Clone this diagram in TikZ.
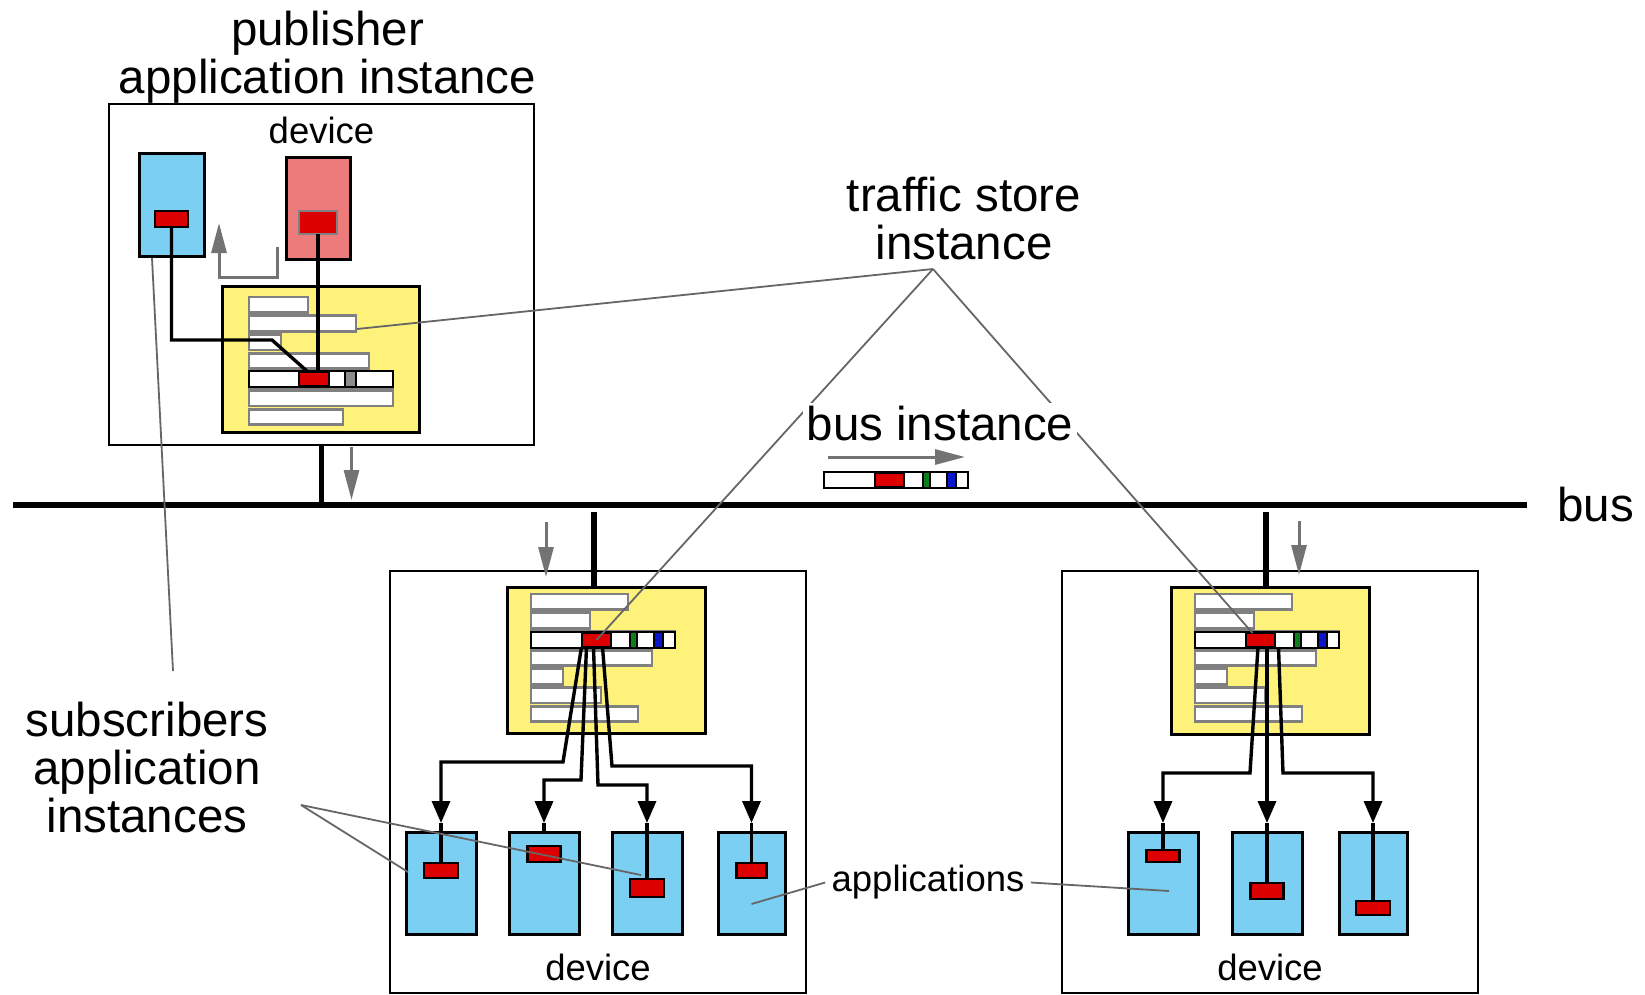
\documentclass[tikz,border=0pt]{standalone}
\usepackage{fontspec}
\setmainfont{Liberation Sans}
\usepackage{xcolor}
\usepackage{tikz}
\usetikzlibrary{arrows.meta,positioning,calc}
\definecolor{AppBlue}{HTML}{7ACFF2}
\definecolor{PubRed}{HTML}{EE7B7B}
\definecolor{PktRed}{HTML}{DD0000}
\definecolor{StoreYellow}{HTML}{FFF27A}
\definecolor{TgGreen}{HTML}{0A7F1E}
\definecolor{TgBlue}{HTML}{0A14C8}

\newcommand{\storerows}[3]{%
  \foreach \w [count=\i from 0] in {#3}
    \draw[slot] (#1,{#2+\i*18.7}) rectangle ++(\w,15.5);}
\newcommand{\telegram}[3]{%
  \draw[cell] (#1,#2) rectangle ++(144,16);
  \node[packet,anchor=west,wh={29}{14}] (#3) at ({#1+51},{#2+8}) {};
  \draw[cell,fill=TgGreen] ({#1+99},#2) rectangle ++(7,16);
  \draw[cell,fill=TgBlue] ({#1+123},#2) rectangle ++(9,16);}

\begin{document}
\begin{tikzpicture}[
  x=0.5pt,y=-0.5pt,
  wh/.style 2 args={minimum width=#1*0.5pt,minimum height=#2*0.5pt},
  dev/.style={draw,line width=1.4pt,fill=white,anchor=north west,inner sep=0pt,outer sep=0pt},
  app/.style={draw,line width=1.5pt,fill=AppBlue,wh={70}{102},inner sep=0pt,outer sep=0pt},
  store/.style={draw,line width=1.5pt,fill=StoreYellow,anchor=north west,inner sep=0pt,outer sep=0pt},
  slot/.style={draw=black!50,line width=1.4pt,fill=white},
  cell/.style={draw,line width=1.4pt,fill=white},
  packet/.style={draw,line width=1.3pt,fill=PktRed,inner sep=0pt,outer sep=0pt},
  wire/.style={line width=1.7pt},
  conn/.style={wire,-{Triangle[length=11pt,width=9pt]},shorten >=4.5pt},
  busline/.style={line width=3pt},
  tap/.style={line width=2.8pt},
  flow/.style={draw=black!55,line width=1.5pt,-{Triangle[length=15pt,width=7.5pt]}},
  leader/.style={draw=black!60,line width=0.9pt},
  big/.style={font=\fontsize{23.75}{24}\selectfont,align=center,inner sep=0pt},
  small/.style={font=\fontsize{18.25}{20}\selectfont,inner sep=0pt}
]
\useasboundingbox (0,0) rectangle (1645,995);

\node[dev,wh={425}{341}] (pdev) at (109,104) {};
\node[big,above=0pt of pdev,xshift=3pt] (pubtitle) {publisher\\application instance};
\node[small,below=6.3pt of pdev.north] (pdevlbl) {device};
\node[app,anchor=north west,wh={65}{102}] (bapp) at (139,154) {};
\node[app,anchor=north west,wh={64}{101},fill=PubRed] (papp) at (286,158) {};
\node[packet,wh={33}{16}] (bpk) at (171.5,219) {};
\node[packet,wh={38}{23},draw=black!50] (ppk) at (318,222.5) {};
\node[store,wh={197}{146}] (pstore) at (222,286) {};
\storerows{249}{297}{59,107,32,120,144,144,94}
\draw[cell] (249,371) rectangle ++(144,16);
\node[packet,anchor=west,wh={30}{14}] (pmsg) at (299,379) {};
\draw[cell,fill=black!45] (345,371) rectangle ++(11,16);
\draw[wire] (bpk.south) |- (272,340) -- ([xshift=-3pt]pmsg.north);
\draw[wire] (ppk.south) -- (ppk.south |- pmsg.north);
\draw[flow] (277,247) |- (219,277) -- (219,223);

\coordinate (busL) at (13,505);
\coordinate (busR) at (1527,505);
\draw[busline] (busL) -- (busR);
\node[big,right=15pt of busR] (buslbl) {bus};
\draw[tap] (pdev.south) -- (pdev.south |- busL);
\draw[flow] ($(pdev.south)+(30,2)$) -- ++(0,53);

\node[dev,wh={416}{422}] (mdev) at (390,571) {};
\node[small,above=5.8pt of mdev.south] (mdevlbl) {device};
\node[store,wh={198}{146}] (mstore) at (507,587) {};
\storerows{531}{594}{97,59,144,121,32,70,107}
\telegram{531}{632}{mpk}
\draw[tap] ([xshift=-6pt]mstore.north) -- ++(0,-75);
\draw[flow] ($(mdev.north)+(-52,-49)$) -- ++(0,55);
\node[app,anchor=north west] (a1) at (406,832) {};
\node[app,right=16.5pt of a1] (a2) {};
\node[app,right=16.5pt of a2] (a3) {};
\node[app,right=18pt of a3,wh={67}{102}] (a4) {};
\node[packet,wh={34}{15}] (p1) at ($(a1.north)+(0,38.5)$) {};
\node[packet,wh={33}{16}] (p2) at ($(a2.north)+(0,22)$) {};
\node[packet,wh={34}{18}] (p3) at ($(a3.north)+(0,56)$) {};
\node[packet,wh={30}{15}] (p4) at ($(a4.north)+(0,38.5)$) {};
\draw[conn] ([xshift=-7.5pt]mpk.south) -- (563,762) -| (a1.north);
\draw[conn] ([xshift=-5pt]mpk.south) -- (581,780) -| (a2.north);
\draw[conn] ([xshift=-1.5pt]mpk.south) -- (598,785) -| (a3.north);
\draw[conn] ([xshift=3pt]mpk.south) -- (612,766) -| (a4.north);
\draw[wire] ([yshift=4.5pt]a1.north) -- (p1.north);
\draw[wire] ([yshift=4.5pt]a2.north) -- (a2.north);
\draw[wire] ([yshift=4.5pt]a3.north) -- (p3.north);
\draw[wire] ([yshift=4.5pt]a4.north) -- (p4.north);

\node[dev,wh={416}{422}] (rdev) at (1062,571) {};
\node[small,above=5.8pt of rdev.south] (rdevlbl) {device};
\node[store,wh={198}{147}] (rstore) at (1171,587) {};
\storerows{1195}{594}{97,59,144,121,32,70,107}
\telegram{1195}{632}{rpk}
\draw[tap] ([xshift=-2pt]rstore.north) -- ++(0,-75);
\draw[flow] ($(rdev.north)+(29,-50)$) -- ++(0,54);
\node[app,anchor=north west] (r1) at (1128,832) {};
\node[app,right=17pt of r1] (r2) {};
\node[app,right=18.5pt of r2,wh={68}{102}] (r3) {};
\node[packet,wh={33}{12}] (q1) at ($(r1.north)+(0,24)$) {};
\node[packet,wh={33}{16}] (q2) at ($(r2.north)+(0,59)$) {};
\node[packet,wh={34}{14}] (q3) at ($(r3.north)+(0,76)$) {};
\draw[conn] ([xshift=-1.25pt]rpk.south) -- (1250,773) -| (r1.north);
\draw[conn] (r2.north |- rpk.south) -- (r2.north);
\draw[conn] ([xshift=9pt]rpk.south) -- (1283,773) -| (r3.north);
\draw[wire] ([yshift=4.5pt]r1.north) -- (q1.north);
\draw[wire] ([yshift=4.5pt]r2.north) -- (q2.north);
\draw[wire] ([yshift=4.5pt]r3.north) -- (q3.north);

\telegram{824}{472}{bmsg}
\draw[flow] (828,457) -- (965,457);

\coordinate (tsx) at (933,269);
\draw[leader] (tsx) -- ($(pstore.north west)+(135,43)$);
\draw[leader] (tsx) -- (mpk.center);
\draw[leader] (tsx) -- ([xshift=-4pt]rpk.north);
\node[big,fill=white,inner sep=2pt] (businst) at (940,424) {bus instance};
\node[big] (tslbl) at (964,219) {traffic store\\instance};

\node[big] (subs) at (147,768) {subscribers\\application\\instances};
\coordinate (subx) at (301,805);
\coordinate (subtop) at (173,671);
\draw[leader] (subx) -- ($(a1.west)+(2,-11)$);
\draw[leader] (subx) -- ($(a3.center)+(-6,-8)$);
\draw[leader] (subtop) -- ($(bapp.south)+(-19.5,2)$);
\node[small,inner sep=3pt] (appl) at (928,882.5) {applications};
\draw[leader] (appl.west) -- ($(a4.center)+(0,21)$);
\draw[leader] (appl.east) -- ($(r1.center)+(6,8)$);
\end{tikzpicture}
\end{document}
